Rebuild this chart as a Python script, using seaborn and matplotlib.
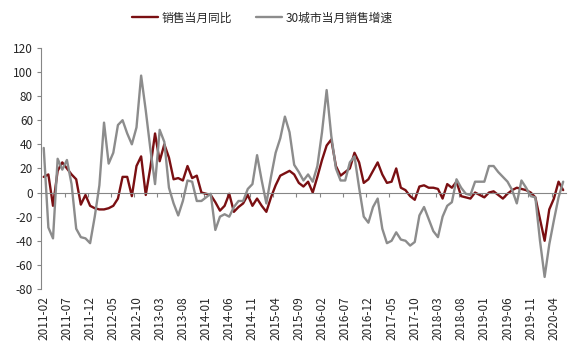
import matplotlib
matplotlib.use("Agg")
import matplotlib.pyplot as plt
import numpy as np
import pandas as pd
import seaborn as sns

# monthly series, 2011-02 .. 2020-06
months = pd.period_range("2011-02", "2020-06", freq="M").strftime("%Y-%m").tolist()

sales_yoy = [
    13, 15, -11, 18, 25, 20, 15, 11, -10, -2,
    -11, -13, -14, -14, -13, -11, -5, 13, 13, -3,
    22, 30, -2, 21, 49, 26, 40, 29, 11, 12,
    10, 22, 12, 14, 0, -1, -2, -8, -15, -11,
    -1, -16, -12, -9, -2, -11, -5, -11, -16, -4,
    6, 14, 16, 18, 15, 8, 5, 9, 0, 13,
    27, 39, 44, 22, 14, 17, 20, 33, 25, 8,
    11, 18, 25, 15, 8, 9, 20, 4, 2, -3,
    -6, 5, 6, 4, 4, 3, -5, 7, 4, 9,
    -3, -4, -5, 0, -2, -4, 0, 1, -2, -5,
    -1, 2, 4, 3, 2, 0, -4, -22, -40, -14,
    -5, 9, 2,
]

city30_growth = [
    37, -29, -38, 28, 19, 27, 7, -30, -37, -38,
    -42, -20, 6, 58, 24, 33, 56, 60, 49, 40,
    54, 97, 68, 36, 7, 52, 42, 4, -9, -19,
    -7, 10, 9, -7, -7, -4, -1, -31, -20, -18,
    -20, -12, -7, -7, 3, 7, 31, 10, -9, 13,
    33, 45, 63, 50, 23, 17, 10, 15, 9, 22,
    50, 85, 47, 20, 10, 10, 25, 30, 4, -20,
    -25, -12, -5, -30, -42, -40, -33, -39, -40, -44,
    -41, -19, -12, -22, -32, -37, -20, -11, -8, 11,
    4, -1, -2, 9, 9, 9, 22, 22, 17, 13,
    9, 2, -9, 10, 4, -3, -4, -40, -70, -43,
    -23, -4, 9,
]

series_names = ["销售当月同比", "30城市当月销售增速"]
colors = ["#7a0f12", "#8c8c8c"]

df = pd.DataFrame({
    "idx": list(range(len(months))) * 2,
    "value": sales_yoy + city30_growth,
    "series": [series_names[0]] * len(months) + [series_names[1]] * len(months),
})

sns.set_style("white")
plt.rcParams["font.family"] = ["Noto Sans CJK SC", "DejaVu Sans"]
plt.rcParams["axes.unicode_minus"] = False

fig = plt.figure(figsize=(5.8, 3.52), dpi=100)
ax = fig.add_axes([0.0714, 0.179, 0.9036, 0.685])

sns.lineplot(data=df, x="idx", y="value", hue="series", hue_order=series_names,
             palette=colors, linewidth=1.7, ax=ax, legend=False)

ax.set_xlim(-0.5, len(months) - 0.5)
ax.set_ylim(-80, 120)
ax.set_yticks(np.arange(-80, 121, 20))
ax.tick_params(axis="y", direction="out", length=3, color="#868686",
               labelsize=8.5, pad=3, left=True)
ax.set_xlabel("")
ax.set_ylabel("")

for s in ["top", "right"]:
    ax.spines[s].set_visible(False)
ax.spines["left"].set_color("#868686")
ax.spines["left"].set_linewidth(0.8)
ax.spines["bottom"].set_position(("data", 0))
ax.spines["bottom"].set_color("#868686")
ax.spines["bottom"].set_linewidth(0.8)

# tick marks between categories on the zero line
ax.set_xticks(np.arange(-0.5, len(months), 5))
ax.set_xticklabels([])
ax.tick_params(axis="x", direction="out", length=3, color="#868686", bottom=True)

# month labels at the bottom
sec = ax.secondary_xaxis(0)
pos = list(range(0, len(months), 5))
sec.set_xticks(pos, [months[p] for p in pos], rotation=90)
sec.tick_params(length=0, labelsize=8.5, pad=5)
sec.spines["bottom"].set_visible(False)

handles = [plt.Line2D([], [], color=c, lw=1.7) for c in colors]
fig.legend(handles, series_names, loc="center", bbox_to_anchor=(0.452, 0.949),
           ncol=2, frameon=False, fontsize=8.5, handlelength=2.2,
           columnspacing=2.0, handletextpad=0.3)

fig.savefig("out.png", dpi=100)
